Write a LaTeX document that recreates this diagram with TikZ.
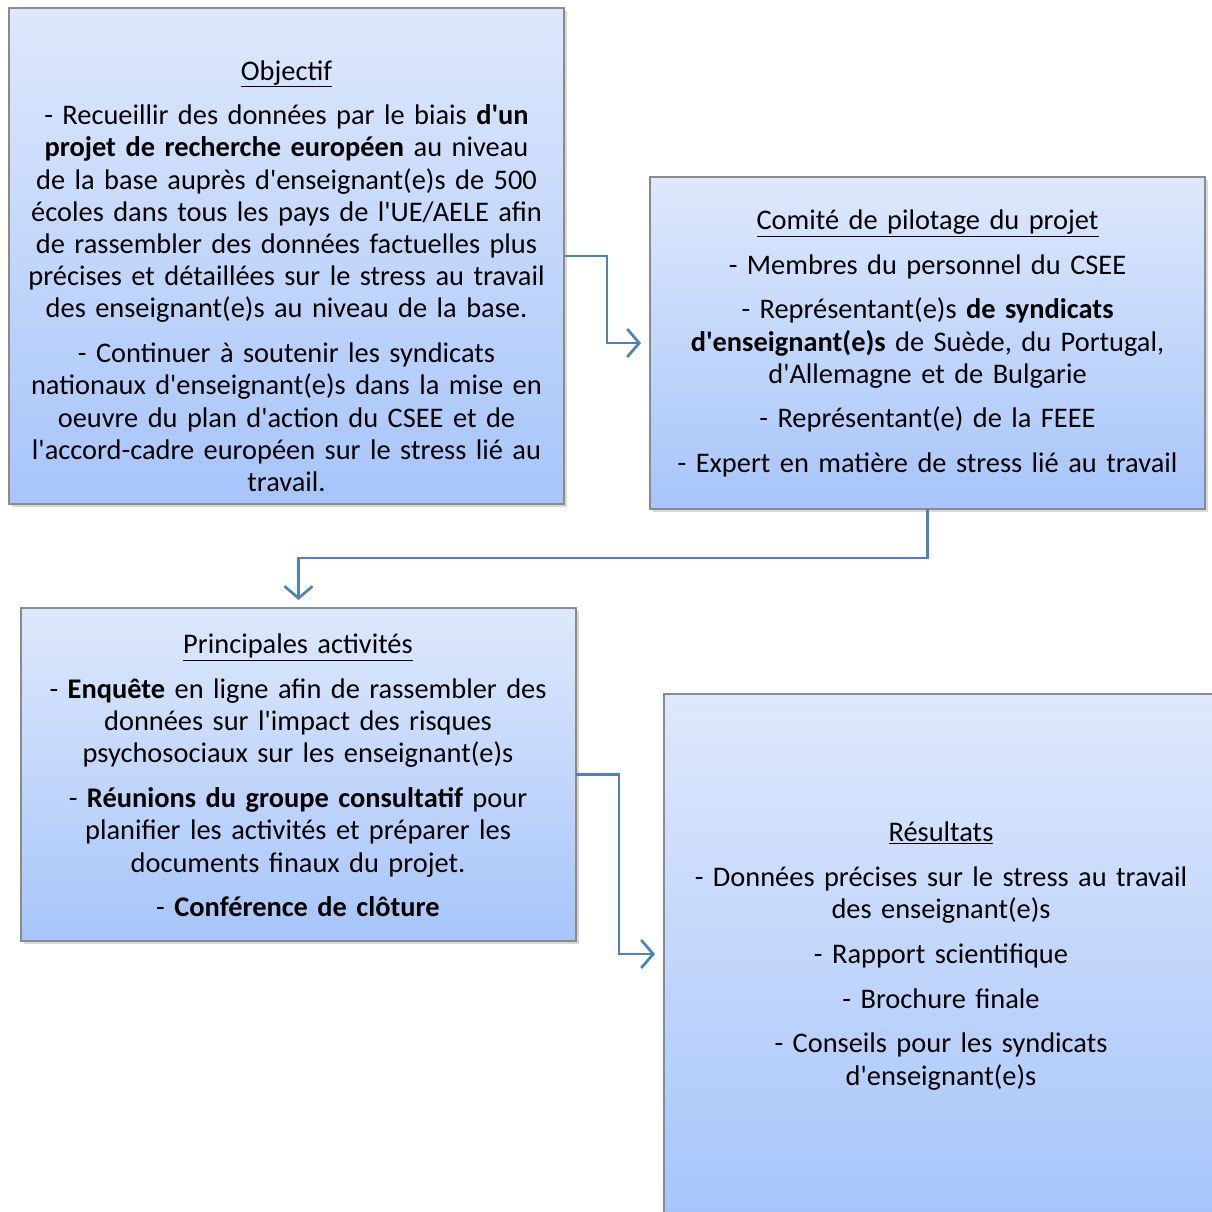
\documentclass[tikz,border=0pt]{standalone}
\usepackage{fontspec}
\setmainfont{Carlito}[Ligatures=TeXOff]
\usetikzlibrary{arrows.meta,shadows}
\definecolor{topc}{HTML}{DEE8FC}
\definecolor{botc}{HTML}{A7C5FA}
\definecolor{edgec}{HTML}{8A8A8A}
\definecolor{arrc}{HTML}{4F81BD}
\begin{document}
\begin{tikzpicture}[x=1pt,y=-1pt,
  box/.style={draw=edgec, line width=1.2pt, top color=topc, bottom color=botc,
    inner sep=0pt, outer sep=0pt, anchor=north west,
    drop shadow={opacity=0.3,shadow xshift=3pt,shadow yshift=-3pt}},
  txt/.style={font=\fontsize{28.4}{32.2}\selectfont, align=center, text width=580pt, inner sep=0pt},
  conn/.style={draw=arrc, line width=2.7pt, -{Straight Barb[length=12pt,width=28pt,line width=2.7pt]}}]
\useasboundingbox[fill=white] (0,0) rectangle (1211,1212);
\node[box, minimum width=555pt, minimum height=496pt] (obj) at (9,8) {};
\node[box, minimum width=555pt, minimum height=332pt] (com) at (650,177) {};
\node[box, minimum width=555pt, minimum height=333pt] (pri) at (21,608) {};
\node[box, minimum width=555pt, minimum height=520pt] (res) at (664,694) {};

\node[txt] (objt) at (286.5,276) {\underline{Objectif}\\[12.5pt]
- Recueillir des données par le biais \textbf{d'un}\\
\textbf{projet de recherche européen} au niveau\\
de la base auprès d'enseignant(e)s de 500\\
écoles dans tous les pays de l'UE/AELE afin\\
de rassembler des données factuelles plus\\
précises et détaillées sur le stress au travail\\
des enseignant(e)s au niveau de la base.\\[12.5pt]
- Continuer à soutenir les syndicats\\
nationaux d'enseignant(e)s dans la mise en\\
oeuvre du plan d'action du CSEE et de\\
l'accord-cadre européen sur le stress lié au\\
travail.};

\node[txt] (comt) at (927.5,343.5) {\underline{Comité de pilotage du projet}\\[12.5pt]
- Membres du personnel du CSEE\\[12.5pt]
- Représentant(e)s \textbf{de syndicats}\\
\textbf{d'enseignant(e)s} de Suède, du Portugal,\\
d'Allemagne et de Bulgarie\\[12.5pt]
- Représentant(e) de la FEEE\\[12.5pt]
- Expert en matière de stress lié au travail};

\node[txt] (prit) at (298,775.5) {\underline{Principales activités}\\[12.5pt]
- \textbf{Enquête} en ligne afin de rassembler des\\
données sur l'impact des risques\\
psychosociaux sur les enseignant(e)s\\[12.5pt]
- \textbf{Réunions du groupe consultatif} pour\\
planifier les activités et préparer les\\
documents finaux du projet.\\[12.5pt]
- \textbf{Conférence de clôture}};

\node[txt] (rest) at (941,956) {\underline{Résultats}\\[12.5pt]
- Données précises sur le stress au travail\\
des enseignant(e)s\\[12.5pt]
- Rapport scientifique\\[12.5pt]
- Brochure finale\\[12.5pt]
- Conseils pour les syndicats\\
d'enseignant(e)s};

\draw[conn, shorten >=9pt] (obj.east) -- (607,256) |- (com.west);
\draw[conn, shorten >=8pt] (com.south) -- (927.5,558) -| (pri.north);
\draw[conn, shorten >=9pt] (pri.east) -- (619,774.5) |- (res.west);
\end{tikzpicture}
\end{document}
